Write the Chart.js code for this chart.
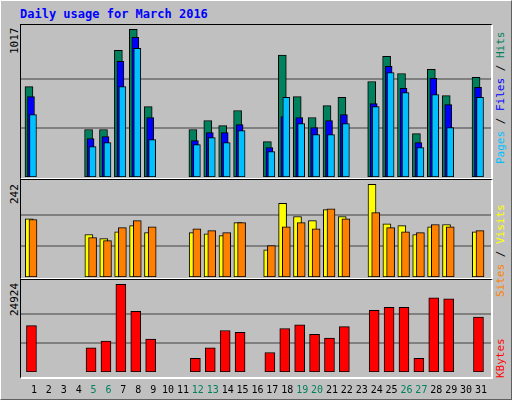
<!DOCTYPE html>
<html>
<head>
<meta charset="utf-8">
<script src="https://cdn.jsdelivr.net/npm/chart.js@4"></script>
<style>
  html, body { margin: 0; padding: 0; }
  body { width: 512px; height: 400px; background: #c0c0c0; position: relative; overflow: hidden;
         font-family: "DejaVu Sans Mono", monospace; }
  .frame { position: absolute; left: 0; top: 0; width: 510px; height: 398px;
           border-top: 1px solid #fff; border-left: 1px solid #fff;
           border-right: 1px solid #606060; border-bottom: 1px solid #606060; }
  .title { position: absolute; left: 20px; top: 7px; font-size: 12px; font-weight: bold; color: #0000ff; }
  .panel { position: absolute; left: 20px; width: 470px;
           border-top: 1px solid #000; border-left: 1px solid #000;
           border-right: 2px solid #fff; border-bottom: 2px solid #fff; }
  canvas { position: absolute; }
  .vl { position: absolute; transform: rotate(-90deg); transform-origin: left top;
        font-size: 11px; white-space: nowrap; }
</style>
</head>
<body>
<div class="frame"></div>
<div class="title">Daily usage for March 2016</div>
<div class="panel" style="top:24px;height:153px"></div>
<div class="panel" style="top:179px;height:98px"></div>
<div class="panel" style="top:279px;height:97px"></div>
<canvas id="c1" width="470" height="151" style="left:21px;top:26px"></canvas>
<canvas id="c2" width="470" height="96" style="left:21px;top:181px"></canvas>
<canvas id="c3" width="470" height="119" style="left:21px;top:281px"></canvas>
<div class="vl" style="left:8px;top:54px;color:#000">1017</div>
<div class="vl" style="left:8px;top:204px;color:#000">242</div>
<div class="vl" style="left:8px;top:316px;color:#000">24924</div>
<div class="vl" style="left:494px;top:164px"><span style="color:#00c0ff">Pages</span> / <span style="color:#0000ff">Files</span> / <span style="color:#00805c">Hits</span></div>
<div class="vl" style="left:494px;top:297px"><span style="color:#ff8000">Sites</span> / <span style="color:#ffff00">Visits</span></div>
<div class="vl" style="left:494px;top:378px;color:#ff0000">KBytes</div>
<script>
/* ---- Data --------------------------------------------------------------- */

const days = [1, 2, 3, 4, 5, 6, 7, 8, 9, 10, 11, 12, 13, 14, 15, 16,
  17, 18, 19, 20, 21, 22, 23, 24, 25, 26, 27, 28, 29, 30, 31];
const weekendDays = [5, 6, 12, 13, 19, 20, 26, 27];

const hits = [623, null, null, null, 327, 327, 872, 1017, 485, null, null, 327, 389, 354, 458, null,
  244, 840, 554, 410, 492, 548, null, 658, 831, 713, 299, 741, 561, null, 686];
const files = [554, null, null, null, 265, 278, 796, 962, 410, null, null, 251, 306, 306, 361, null,
  203, 416, 410, 341, 389, 430, null, 506, 762, 610, 237, 679, 499, null, 617];
const pages = [430, null, null, null, 209, 237, 623, 886, 258, null, null, 223, 271, 237, 320, null,
  175, 548, 368, 292, 292, 368, null, 485, 720, 582, 203, 568, 341, null, 548];
const visits = [152, null, null, null, 111, 100, 118, 134, 116, null, null, 116, 113, 108, 142, null,
  71, 192, 158, 147, 176, 158, null, 242, 139, 134, 111, 131, 137, null, 118];
const sites = [150, null, null, null, 103, 95, 129, 147, 131, null, null, 126, 121, 116, 142, null,
  82, 131, 142, 126, 178, 152, null, 168, 129, 118, 116, 137, 131, null, 121];
const kbytes = [13190, null, null, null, 6913, 8823, 24924, 17283, 9369, null, null, 3911, 6913, 11825, 11279, null,
  5548, 12371, 13462, 10733, 9642, 12917, null, 17556, 18375, 18375, 3911, 21103, 20830, null, 15645];

/* ---- Helpers ------------------------------------------------------------ */

const X_MIN = 0.13, X_MAX = 31.67;

function points(values, offset) {
  return days
    .map((d, i) => ({ x: d + offset, y: values[i] }))
    .filter((p) => p.y !== null);
}

function barSet(values, offset, color, width, order) {
  return {
    data: points(values, offset),
    backgroundColor: color,
    borderColor: "#000",
    borderWidth: 1,
    borderSkipped: false,
    barThickness: width,
    grouped: false,
    order,
  };
}

function panel(id, datasets, peak, yTop, showX) {
  return new Chart(document.getElementById(id), {
    type: "bar",
    data: { datasets },
    options: {
      responsive: false,
      animation: false,
      devicePixelRatio: 1,
      layout: { padding: 0 },
      plugins: { legend: { display: false }, tooltip: { enabled: false } },
      scales: {
        x: {
          type: "linear",
          min: X_MIN,
          max: X_MAX,
          display: showX,
          offset: false,
          grid: { display: false },
          border: { display: false },
          afterBuildTicks: (axis) => { axis.ticks = days.map((d) => ({ value: d })); },
          ticks: {
            autoSkip: false,
            maxRotation: 0,
            padding: 4,
            font: { family: "DejaVu Sans Mono", size: 10 },
            color: (c) => (weekendDays.includes(c.tick.value) ? "#00805c" : "#000"),
            callback: (v) => String(v),
          },
        },
        y: {
          min: 0,
          max: yTop,
          display: true,
          border: { display: false },
          afterBuildTicks: (axis) => {
            axis.ticks = [{ value: peak / 3 }, { value: (2 * peak) / 3 }];
          },
          ticks: { display: false },
          grid: { color: "#808080", lineWidth: 2, drawTicks: false },
          afterFit: (axis) => { axis.width = 0; },
        },
      },
    },
  });
}

/* ---- Panels ------------------------------------------------------------- */

panel("c1", [
  barSet(hits, -0.335, "#00805c", 8, 3),
  barSet(files, -0.2, "#0000ff", 7, 2),
  barSet(pages, -0.067, "#00c0ff", 7, 1),
], 1017, 1040, false);

panel("c2", [
  barSet(visits, -0.315, "#ffff00", 8, 2),
  barSet(sites, -0.067, "#ff8000", 8, 1),
], 242, 250.6, false);

panel("c3", [
  barSet(kbytes, -0.168, "#ff0000", 10, 1),
], 24924, 25905, true);
</script>
</body>
</html>
